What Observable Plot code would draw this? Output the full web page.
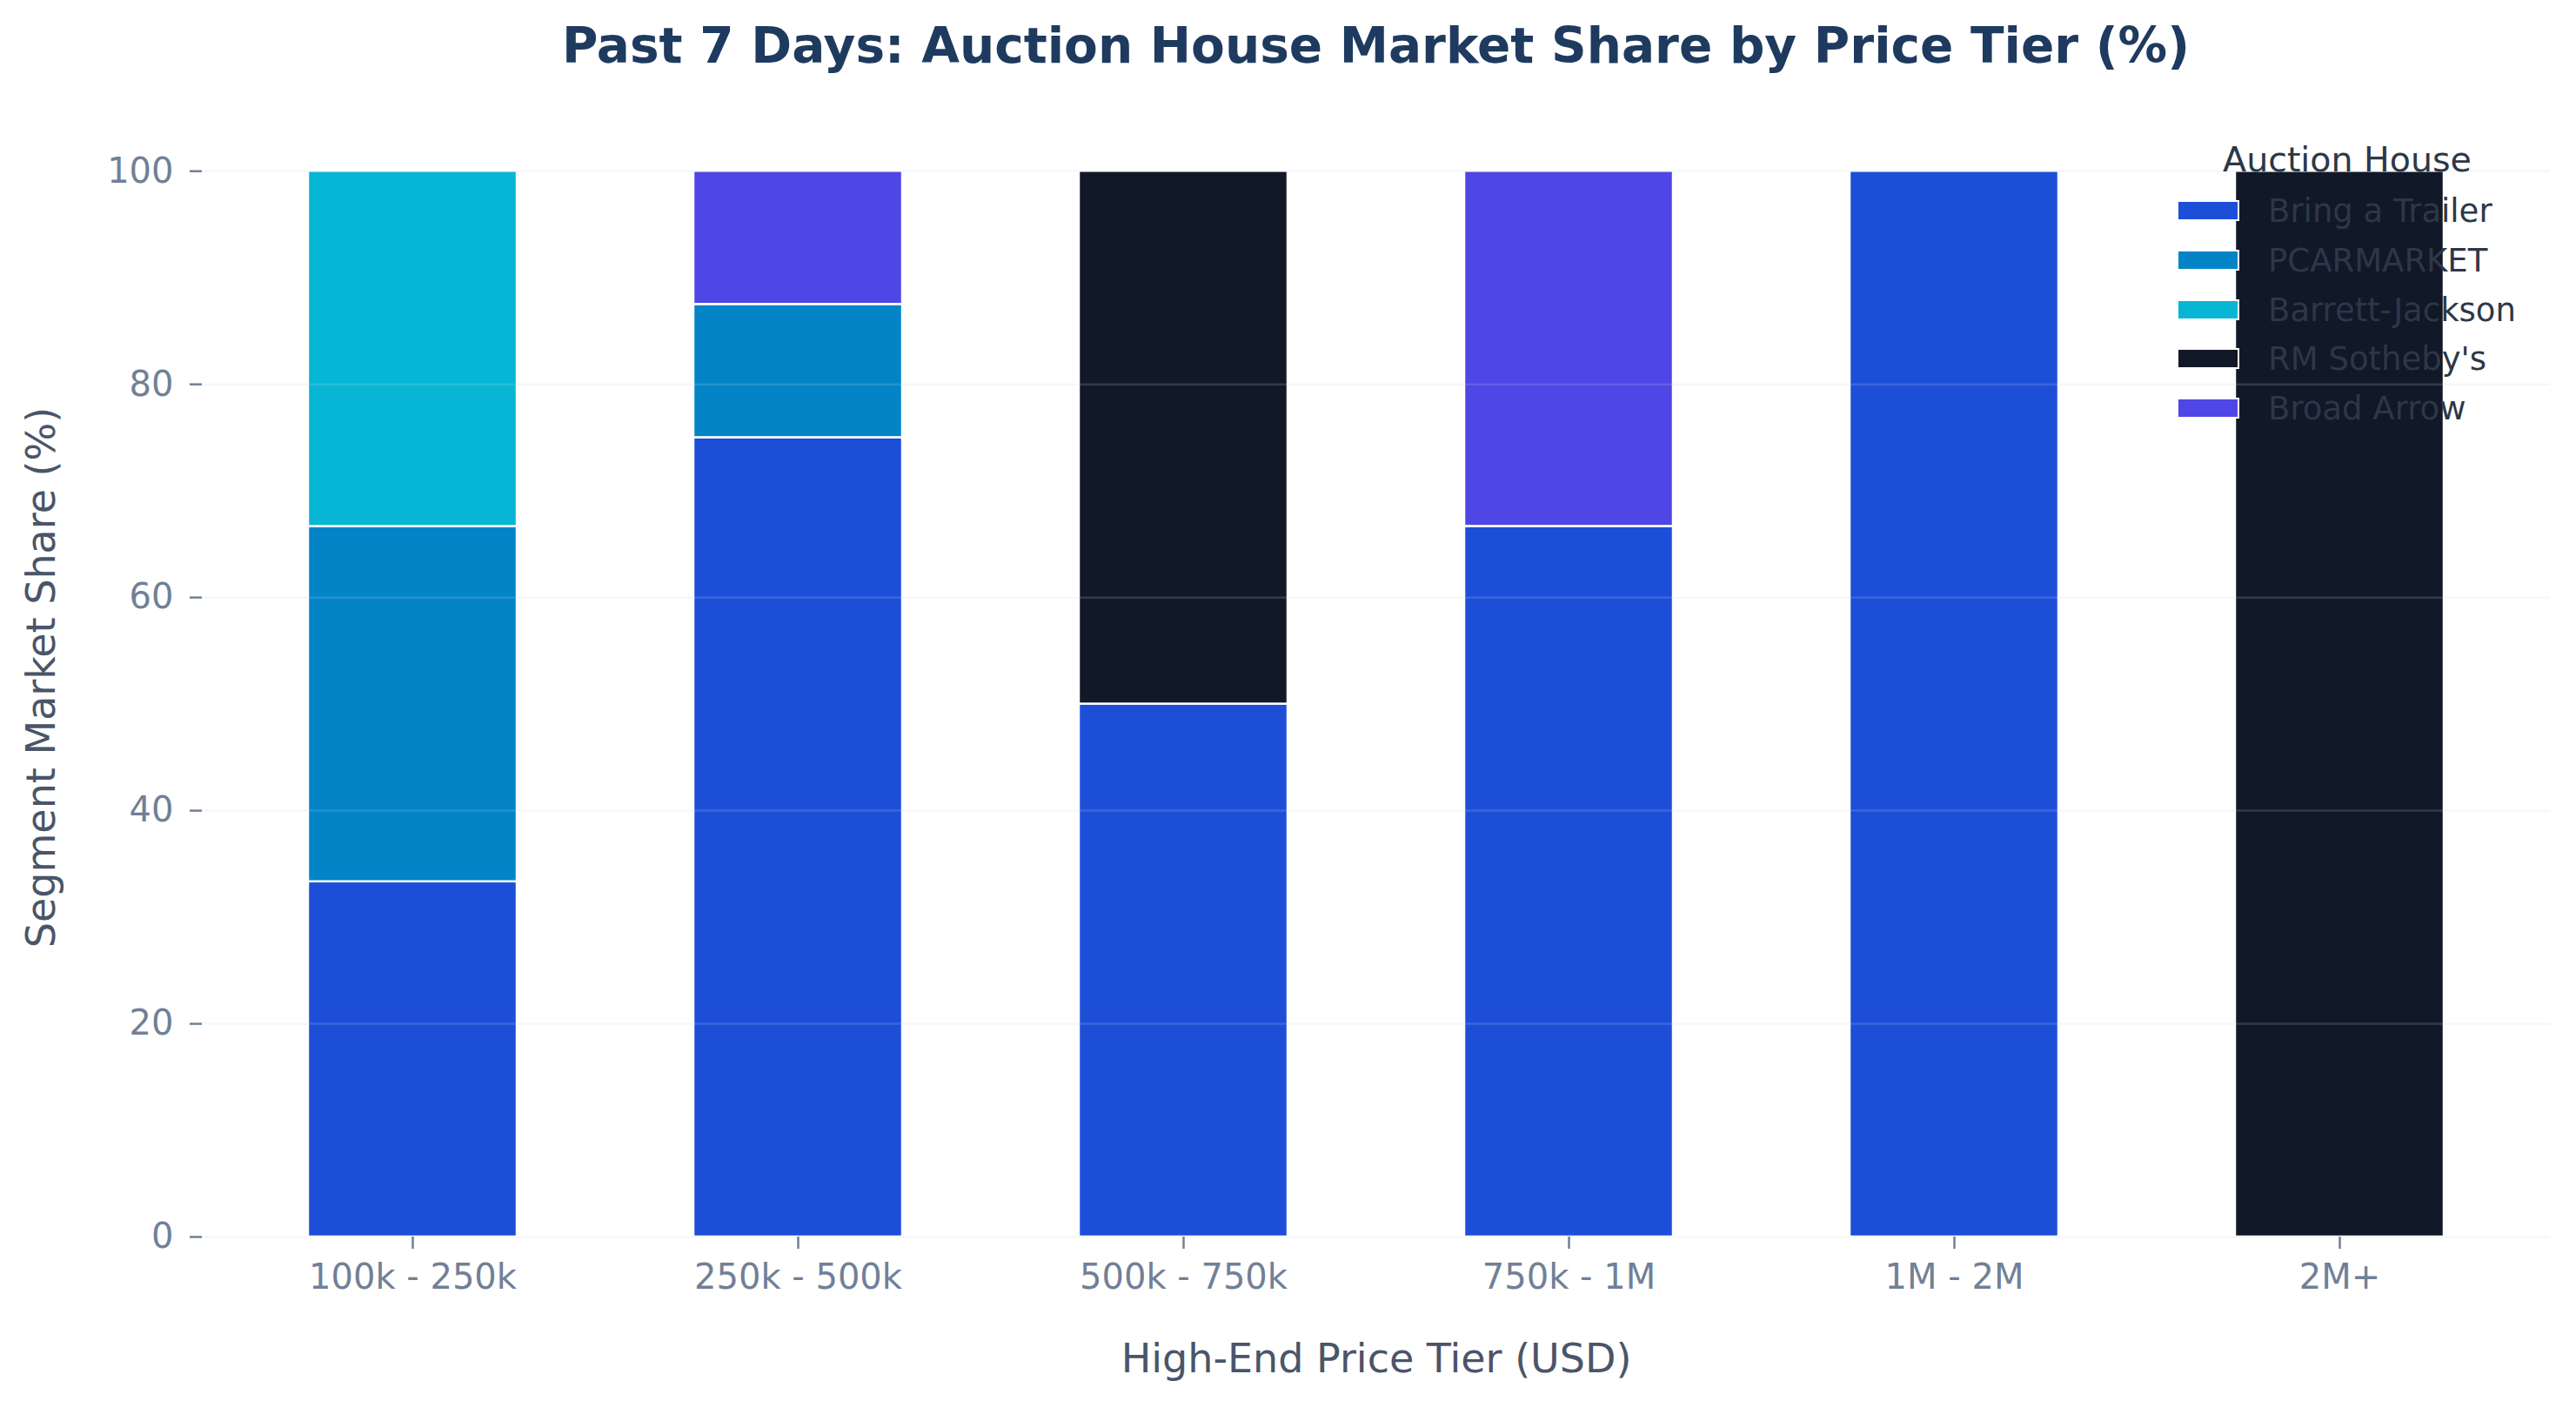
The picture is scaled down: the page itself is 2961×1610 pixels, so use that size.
<!DOCTYPE html>
<html>
<head>
<meta charset="utf-8">
<script src="https://cdn.jsdelivr.net/npm/d3@7"></script>
<script src="https://cdn.jsdelivr.net/npm/@observablehq/plot@0.6"></script>
<style>
  html, body { margin: 0; padding: 0; background: #ffffff; }
  body { width: 2961px; height: 1610px; position: relative; overflow: hidden; font-family: "DejaVu Sans", sans-serif; }
  #title { position: absolute; left: 232px; top: 0; width: 2699px; height: 106px; line-height: 106px; text-align: center;
           font-size: 56.5px; font-weight: bold; color: #1e3a5f; white-space: nowrap; }
  #chart { position: absolute; left: 0; top: 106px; }
  #legend { position: absolute; left: 2502px; top: 160px; color: #2d3748; }
  #legend .ltitle { position: absolute; left: 0; width: 392px; top: 0; height: 46px; line-height: 46px; text-align: center; font-size: 39.5px; white-space: nowrap; }
  #legend .row { position: absolute; left: 0; height: 46px; white-space: nowrap; }
  #legend .sw { position: absolute; left: 0; top: 10px; width: 68px; height: 20px; border: 2.5px solid #ffffff; }
  #legend .lab { position: absolute; left: 105px; top: 0; height: 46px; line-height: 46px; font-size: 37px; }
</style>
</head>
<body>
<div id="title"></div>
<div id="chart"></div>
<div id="legend"></div>
<script>
// ---- data ----
const tiers = ["100k - 250k", "250k - 500k", "500k - 750k", "750k - 1M", "1M - 2M", "2M+"];
const houses = ["Bring a Trailer", "PCARMARKET", "Barrett-Jackson", "RM Sotheby's", "Broad Arrow"];
const houseColors = ["#1d4ed8", "#0284c7", "#06b6d4", "#111827", "#4f46e5"];
const bringATrailer  = [33.33, 75.0, 50.0, 66.67, 100.0, 0];
const pcarmarket     = [33.33, 12.5, 0, 0, 0, 0];
const barrettJackson = [33.34, 0, 0, 0, 0, 0];
const rmSothebys     = [0, 0, 50.0, 0, 0, 100.0];
const broadArrow     = [0, 12.5, 0, 33.33, 0, 0];
const yTicks = [0, 20, 40, 60, 80, 100];
const titleText = "Past 7 Days: Auction House Market Share by Price Tier (%)";
const xLabel = "High-End Price Tier (USD)";
const yLabel = "Segment Market Share (%)";
const legendTitle = "Auction House";

document.getElementById("title").textContent = titleText;

const seriesValues = [bringATrailer, pcarmarket, barrettJackson, rmSothebys, broadArrow];
const rows = [];
houses.forEach((h, i) => {
  tiers.forEach((t, j) => {
    const v = seriesValues[i][j];
    if (v > 0) rows.push({tier: t, house: h, value: v});
  });
});

const W = 2961, H = 1504;
const chart = Plot.plot({
  width: W,
  height: H,
  marginLeft: 232,
  marginRight: 30,
  marginTop: 29,
  marginBottom: 189,
  style: {fontFamily: "DejaVu Sans, sans-serif", background: "#ffffff"},
  x: {type: "band", domain: tiers, paddingInner: 0.4582, paddingOuter: 0.2731, align: 0.5},
  y: {domain: [0, 105]},
  color: {domain: houses, range: houseColors},
  marks: [
    Plot.barY(rows, Plot.stackY({x: "tier", y: "value", fill: "house", order: houses,
      stroke: "#ffffff", strokeWidth: 2.5})),
    Plot.ruleY(yTicks, {stroke: "#cbd5e1", strokeOpacity: 0.18, strokeWidth: 2.5}),
    Plot.axisY({ticks: yTicks, tickSize: 14, tickPadding: 19, fontSize: 40, color: "#718096",
      strokeWidth: 2.5, label: null}),
    Plot.axisY({ticks: [], tickSize: 0, label: yLabel, labelAnchor: "center", labelArrow: "none", labelOffset: 202,
      fontSize: 46, color: "#4a5568"}),
    Plot.axisX({tickSize: 14, tickPadding: 17, fontSize: 40, color: "#718096", strokeWidth: 2.5, label: null}),
    Plot.axisX({ticks: [], tickSize: 0, label: xLabel, labelAnchor: "center", labelArrow: "none", labelOffset: 155,
      fontSize: 46, color: "#4a5568"})
  ]
});
document.getElementById("chart").appendChild(chart);

// legend (overlaid on plot area, top-right)
const lg = document.getElementById("legend");
const lt = document.createElement("div");
lt.className = "ltitle";
lt.textContent = legendTitle;
lg.appendChild(lt);
houses.forEach((h, i) => {
  const r = document.createElement("div");
  r.className = "row";
  r.style.top = (60 + i * 56.8) + "px";
  const sw = document.createElement("div");
  sw.className = "sw";
  sw.style.background = houseColors[i];
  const lab = document.createElement("div");
  lab.className = "lab";
  lab.textContent = h;
  r.appendChild(sw);
  r.appendChild(lab);
  lg.appendChild(r);
});
</script>
</body>
</html>
